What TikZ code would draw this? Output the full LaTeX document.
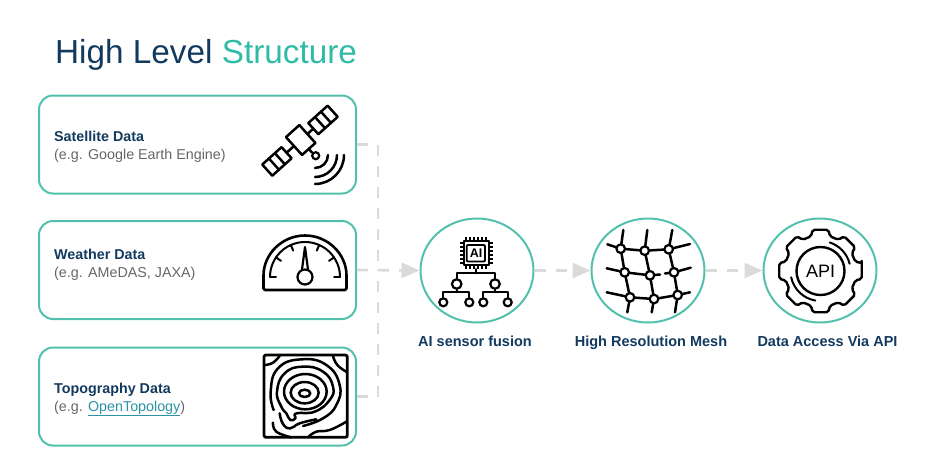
\documentclass[tikz,border=0pt]{standalone}
\usepackage{fontspec}
\setmainfont{Liberation Sans}
\usepackage{xcolor}
\usetikzlibrary{arrows.meta, shapes.geometric}
\definecolor{navy}{HTML}{123A5E}
\definecolor{teal2}{HTML}{2FBBA5}
\definecolor{frame}{HTML}{52C0AC}
\definecolor{flow}{HTML}{DADADA}
\definecolor{subtext}{HTML}{666666}
\definecolor{linktext}{HTML}{2B93A5}
\tikzset{
  databox/.style={draw=frame, line width=2pt, rounded corners=14pt, minimum width=317pt, minimum height=98pt, inner sep=0pt},
  stagering/.style={draw=frame, line width=2pt, ellipse, minimum width=113pt, minimum height=104pt, inner sep=0pt},
  headtext/.style={anchor=base west, inner sep=0pt, text=navy, font=\fontsize{14.3}{17}\selectfont\bfseries},
  subline/.style={anchor=base west, inner sep=0pt, text=subtext, font=\fontsize{14.3}{17}\selectfont},
  stagetext/.style={anchor=base, inner sep=0pt, text=navy, font=\fontsize{14.5}{17}\selectfont\bfseries},
  flowline/.style={draw=flow, line width=2.6pt, dash pattern=on 11pt off 10pt},
  flowarrow/.style={flowline, -{Triangle[length=18pt,width=15pt,fill=flow]}},
  icon/.style={draw=black, line width=2.5pt, line cap=round, line join=round},
  knot/.style={circle, draw=black, fill=white, line width=2.2pt, minimum size=9pt, inner sep=0pt},
}
\begin{document}
\begin{tikzpicture}[x=1pt, y=-1pt]
\useasboundingbox (0,0) rectangle (950,456);
\node[anchor=base west, inner sep=0pt, font=\fontsize{33.3}{38}\selectfont] (title) at (55,63) {\textcolor{navy}{High Level} \textcolor{teal2}{Structure}};
% input boxes
\node[databox] (satbox) at (197.5,144.5) {};
\node[databox] (wxbox) at (197.5,270) {};
\node[databox] (topobox) at (197.5,396.5) {};
\node[headtext] (sathead) at (54,141.7) {Satellite Data};
\node[subline] (satsub) at (54,159) {(e.g. Google Earth Engine)};
\node[headtext] (wxhead) at (54,259) {Weather Data};
\node[subline] (wxsub) at (54,277) {(e.g. AMeDAS, JAXA)};
\node[headtext] (topohead) at (54,393) {Topography Data};
\node[subline] (toposub) at (54,411) {(e.g. \textcolor{linktext}{\underline{OpenTopology}})};
% stages
\node[stagering] (ai) at (477,270.5) {};
\node[stagering] (mesh) at (648,270.5) {};
\node[stagering] (api) at (820,270.5) {};
\node[stagetext] (ailabel) at (475,346.7) {AI sensor fusion};
\node[stagetext] (meshlabel) at (651,346.7) {High Resolution Mesh};
\node[stagetext] (apilabel) at (827.5,346.7) {Data Access Via API};
% connectors
\coordinate (joint) at (378,270);
\draw[flowline] (satbox.east) -| (joint);
\draw[flowline] (topobox.east) -| (joint);
\draw[flowarrow] (wxbox.east) -- (ai.west);
\draw[flowarrow] (ai.east) -- (mesh.west);
\draw[flowarrow] (mesh.east) -- (api.west);
% satellite icon
\begin{scope}[shift={(300.7,140)}, rotate=42]
\draw[icon] (-9,-12) rectangle (9,12);
\draw[icon] (-45,-7.5) rectangle (-19,7.5);
\draw[icon] (17,-7.5) rectangle (43,7.5);
\draw[icon] (-19,0) -- (-9,0) (9,0) -- (17,0);
\foreach \k in {-36,-28,26,34} \draw[icon] (\k,-7.5) -- (\k,7.5);
\draw[icon] (0,12) -- (0,17);
\end{scope}
\node[knot, minimum size=7pt] (dish) at (315.7,155.7) {};
\foreach \r in {13,22,29} \draw[icon] (315+\r,155) arc[start angle=0, end angle=90, radius=\r];
% gauge icon
\begin{scope}[shift={(305,277)}]
\draw[icon, line width=2.6pt, rounded corners=1.5pt] (-41.5,13) -- (-41.5,0) arc[start angle=180, end angle=360, radius=41.5] -- (41.5,13) -- cycle;
\draw[icon, line width=2pt] (-35,0) arc[start angle=180, end angle=360, radius=35];
\foreach \a in {180,146,114,66,34,0} \draw[icon, line width=2pt] (-\a:35) -- (-\a:29);
\draw[icon, fill=white, line width=2.2pt] (0,-30) -- (3.2,-6) -- (-3.2,-6) -- cycle;
\node[knot, minimum size=15pt] (dial) at (0,0) {};
\end{scope}
% topography icon
\begin{scope}[shift={(258,350)}, x=0.3333pt, y=-0.3333pt]
\draw[icon, line width=2.8pt, rounded corners=2pt] (18,15) rectangle (268,262);
\draw[icon] (140,130) ellipse [x radius=17, y radius=11];
\draw[icon] (140,128) ellipse [x radius=42, y radius=32];
\draw[icon] (142,125) ellipse [x radius=64, y radius=53];
\draw[icon] plot[smooth cycle, tension=0.8] coordinates {(115,190) (170,185) (215,150) (225,110) (195,65) (135,50) (80,70) (57,125) (70,170) (85,190) (97,210) (112,205)};
\draw[icon] plot[smooth, tension=0.8] coordinates {(47,180) (38,125) (60,55) (130,28) (205,45) (245,105) (235,165) (195,205) (135,228)};
\draw[icon] plot[smooth, tension=0.8] coordinates {(65,190) (75,222) (97,235) (125,220) (175,208)};
\draw[icon] plot[smooth, tension=0.8] coordinates {(150,262) (175,245) (215,240) (265,215)};
\draw[icon] plot[smooth, tension=0.8] coordinates {(45,218) (55,245) (100,262)};
\draw[icon] plot[smooth, tension=0.8] coordinates {(22,45) (45,38) (65,18)};
\draw[icon] plot[smooth, tension=0.8] coordinates {(225,18) (238,45) (265,65)};
\end{scope}
% AI icon
\draw[icon, line width=2pt] (463.5,241) rectangle (488.5,265);
\draw[icon, line width=1.8pt, rounded corners=1pt] (466.7,245) rectangle (485,261.5);
\node[inner sep=0pt, font=\fontsize{12.5}{12}\selectfont\bfseries] (chip) at (476,253) {AI};
\foreach \k in {0,...,5} {
  \draw[icon, line width=1.2pt, line cap=butt] (466+\k*4,241) -- (466+\k*4,237);
  \draw[icon, line width=1.2pt, line cap=butt] (466+\k*4,265) -- (466+\k*4,269);
  \draw[icon, line width=1.2pt, line cap=butt] (463.5,243+\k*4) -- (459.5,243+\k*4);
  \draw[icon, line width=1.2pt, line cap=butt] (488.5,243+\k*4) -- (492.5,243+\k*4);
}
\node[knot, minimum size=9.5pt] (lefthub) at (456.7,284) {};
\node[knot, minimum size=9.5pt] (righthub) at (495,284) {};
\node[knot, minimum size=8pt] (leafa) at (443.3,302.3) {};
\node[knot, minimum size=8pt] (leafb) at (469.3,302.3) {};
\node[knot, minimum size=8pt] (leafc) at (483.3,302.3) {};
\node[knot, minimum size=8pt] (leafd) at (507.7,302.3) {};
\draw[icon, line width=2pt] (475.7,269) -- (475.7,273.3);
\draw[icon, line width=2pt] (lefthub.north) |- (475.7,273.3) -| (righthub.north);
\draw[icon, line width=2pt] (lefthub.south) -- (456.7,292.3);
\draw[icon, line width=2pt] (righthub.south) -- (495,292.3);
\draw[icon, line width=2pt] (leafa.north) |- (456.7,292.3) -| (leafb.north);
\draw[icon, line width=2pt] (leafc.north) |- (495,292.3) -| (leafd.north);
% mesh icon
\foreach \nm/\xx/\yy in {ma/620.7/248.7, mb/644.7/250.7, mc/668.7/249.3, md/624.7/272.3, me/650/275.3, mf/674/272.3, mg/630/297.3, mh/654/299, mi/677.7/295}
  \coordinate (\nm) at (\xx,\yy);
\draw[icon] (ma) -- (mb) -- (mc) (md) -- (me) -- (660,274.5) (665,273.5) -- (mf) (mg) -- (mh) -- (mi);
\draw[icon] (ma) -- (md) -- (mg) (mb) -- (me) -- (mh) (mc) -- (mf) -- (mi);
\draw[icon] (ma) -- (623.3,230) (mb) -- (647.3,230) (mc) -- (672.3,230);
\draw[icon] (ma) -- (607.3,244.3) (md) -- (606.7,268.3) (mg) -- (606.7,292.3);
\draw[icon] (mc) -- (690,244) (mf) -- (690.7,267.7) (mi) -- (690,292.3);
\draw[icon] (mg) -- (627.3,312.3) (mh) -- (651.7,312.3) (mi) -- (675,312.3);
\foreach \nm in {ma,mb,mc,md,me,mf,mg,mh,mi}
  \draw[icon, fill=white, line width=2.2pt] (\nm) circle[radius=4.3];
% API icon
\begin{scope}[shift={(820.5,271)}]
\draw[icon, line width=2.4pt, rounded corners=2pt] (-11:42) \foreach \a in {0,45,...,315} { -- ({\a-11}:42) -- ({\a+11}:42) -- ({\a+15}:36) -- ({\a+30}:36) } -- cycle;
\draw[icon, line width=2.4pt] (0,0) circle[radius=24];
\draw[icon, line width=2pt] (-72:30) arc[start angle=-72, end angle=-14, radius=30];
\draw[icon, line width=2pt] (168:30) arc[start angle=168, end angle=100, radius=30];
\node[inner sep=0pt, text=black, font=\fontsize{18}{18}\selectfont] (apitext) at (0,0) {API};
\end{scope}
\end{tikzpicture}
\end{document}
